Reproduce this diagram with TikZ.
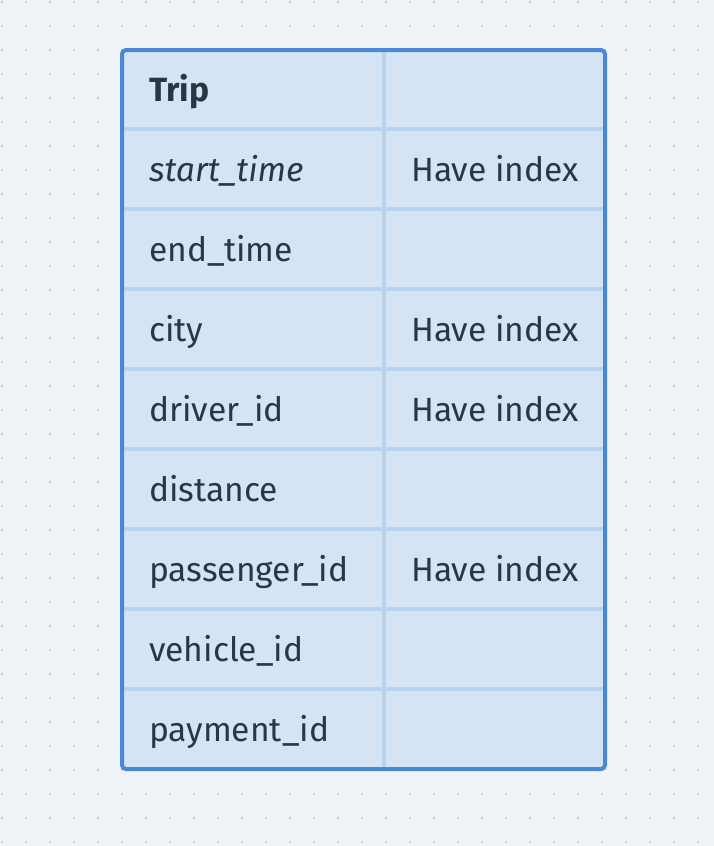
\documentclass[tikz,border=0pt]{standalone}
\usepackage{fontspec}
\setmainfont{Fira Sans}
\usepackage{tikz}

\definecolor{bgcol}{HTML}{EFF3F7}
\definecolor{dotcol}{HTML}{C5CBDA}
\definecolor{tabfill}{HTML}{D4E4F5}
\definecolor{tabline}{HTML}{B8D3F0}
\definecolor{tabframe}{HTML}{4A88D5}
\definecolor{txtcol}{HTML}{2B3645}

\tikzset{cell/.style={anchor=base west,inner sep=0pt,text=txtcol,font=\fontsize{33.6}{40}\selectfont}}

\begin{document}
\begin{tikzpicture}[x=1pt,y=-1pt]
		\fill[bgcol] (0,0) rectangle (714,846); %background
		\foreach \i in {0,...,29}
			\foreach \j in {0,...,35}{
				\pgfmathtruncatemacro{\big}{mod(\i,2)+mod(\j,2)}
				\ifnum\big=0
					\fill[dotcol] (2+24*\i,2+24*\j) circle (1.7);
				\else
					\fill[dotcol] (2+24*\i,2+24*\j) circle (1.2);
				\fi
			}
		\fill[tabfill,rounded corners=4] (122,50) rectangle (605,769); %table
		\foreach \k in {1,...,8}
			\draw[tabline,line width=4] (123,49+80*\k) -- (604,49+80*\k);
		\draw[tabline,line width=4] (384,51) -- (384,768);
		\draw[tabframe,line width=4,rounded corners=4] (122,50) rectangle (605,769);
		\node[cell,font=\fontsize{33.6}{40}\selectfont\bfseries] (trip) at (149,101.5) {Trip}; %left column
		\node[cell,font=\fontsize{33.6}{40}\selectfont\itshape] (start) at (149,181.5) {start\_time};
		\node[cell] (end) at (149,261.5) {end\_time};
		\node[cell] (city) at (149,341.5) {city};
		\node[cell] (driver) at (149,421.5) {driver\_id};
		\node[cell] (dist) at (149,501.5) {distance};
		\node[cell] (pass) at (149,581.5) {passenger\_id};
		\node[cell] (vehicle) at (149,661.5) {vehicle\_id};
		\node[cell] (pay) at (149,741.5) {payment\_id};
		\foreach \r/\n in {181.5/startidx,341.5/cityidx,421.5/driveridx,581.5/passidx} %right column
			\node[cell] (\n) at (411,\r) {Have index};
\end{tikzpicture}
\end{document}
